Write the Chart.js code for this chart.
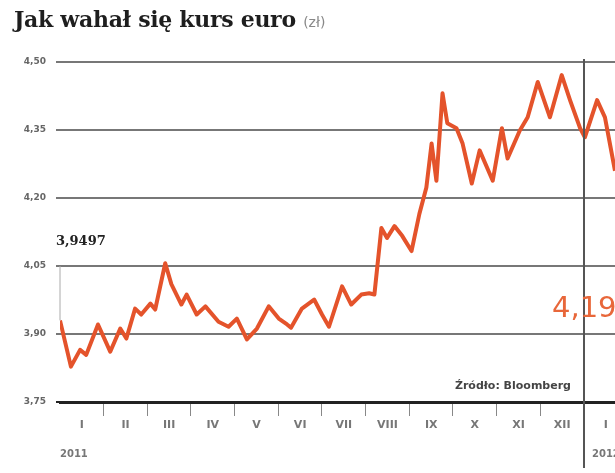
<!DOCTYPE html>
<html>
<head>
<meta charset="utf-8">
<script src="https://cdn.jsdelivr.net/npm/chart.js@4"></script>
<style>
  html, body { margin: 0; padding: 0; background: #fff; overflow: hidden; }
  #wrap { position: relative; width: 615px; height: 473px; }
  #title { position: absolute; left: 14px; top: 6px; font: bold 22px "DejaVu Serif", serif; color: #1e1e1e; white-space: nowrap; letter-spacing: -0.3px; }
  #title span { font: normal 14px "DejaVu Sans", sans-serif; color: #888; letter-spacing: 0; }
  #source { position: absolute; right: 44px; top: 379px; font: bold 11px "DejaVu Sans", sans-serif; color: #444; }
  canvas { position: absolute; left: 0; top: 0; }
</style>
</head>
<body>
<div id="wrap">
  <canvas id="chart" width="615" height="473"></canvas>
  <div id="title">Jak wahał się kurs euro <span>(zł)</span></div>
  <div id="source">Źródło: Bloomberg</div>
</div>
<script>
// months since 1 Jan 2011 / EUR-PLN rate
const months = [0, 0.25, 0.46, 0.6, 0.87, 1.15, 1.38, 1.52, 1.72, 1.86, 2.07, 2.18, 2.41, 2.55, 2.78, 2.9,
  3.13, 3.33, 3.63, 3.86, 4.05, 4.28, 4.51, 4.78, 5.01, 5.2, 5.29, 5.54, 5.82, 6.0, 6.16, 6.46, 6.67, 6.9, 7.08, 7.2,
  7.36, 7.49, 7.66, 7.84, 8.05, 8.23, 8.39, 8.51, 8.62, 8.76, 8.87, 9.08, 9.22, 9.43, 9.61, 9.91,
  10.12, 10.25, 10.53, 10.71, 10.94, 11.22, 11.49, 11.68, 11.91, 12.02, 12.3, 12.48, 12.71];
const rates = [3.93, 3.828, 3.865, 3.854, 3.921, 3.861, 3.912, 3.89, 3.956, 3.943, 3.967, 3.954, 4.056, 4.01, 3.965, 3.987,
  3.943, 3.961, 3.927, 3.916, 3.934, 3.888, 3.912, 3.961, 3.934, 3.921, 3.914, 3.956, 3.976, 3.943, 3.916, 4.005, 3.965, 3.987, 3.99, 3.987,
  4.134, 4.112, 4.138, 4.116, 4.083, 4.165, 4.223, 4.32, 4.238, 4.431, 4.365, 4.354, 4.32, 4.232, 4.305, 4.238,
  4.354, 4.287, 4.349, 4.378, 4.456, 4.378, 4.471, 4.416, 4.354, 4.334, 4.416, 4.378, 4.26];
const monthLabels = ['I', 'II', 'III', 'IV', 'V', 'VI', 'VII', 'VIII', 'IX', 'X', 'XI', 'XII', 'I'];
const yearLabels = ['2011', '2012'];
const yTicks = [3.75, 3.90, 4.05, 4.20, 4.35, 4.50];
const startLabel = '3,9497';
const lastLabel = '4,19';

// extra drawing: month names, years, 2012 divider, callouts
const extras = {
  id: 'extras',
  afterDraw(chart) {
    const { ctx, chartArea } = chart;
    const x = chart.scales.x, y = chart.scales.y;
    ctx.save();

    // year divider
    const xd = x.getPixelForValue(12);
    ctx.strokeStyle = '#555';
    ctx.lineWidth = 2;
    ctx.beginPath();
    ctx.moveTo(xd, chartArea.top - 3);
    ctx.lineTo(xd, 468);
    ctx.stroke();

    // leader for the start value
    const x0 = x.getPixelForValue(0);
    ctx.strokeStyle = '#aaa';
    ctx.lineWidth = 1;
    ctx.beginPath();
    ctx.moveTo(x0, y.getPixelForValue(4.05));
    ctx.lineTo(x0, y.getPixelForValue(rates[0]));
    ctx.stroke();

    // month labels
    ctx.fillStyle = '#777';
    ctx.font = 'bold 11px "DejaVu Sans", sans-serif';
    ctx.textAlign = 'center';
    ctx.textBaseline = 'middle';
    monthLabels.forEach((m, i) => {
      ctx.fillText(m, x.getPixelForValue(i + 0.5), 425);
    });

    // years
    ctx.font = 'bold 10px "DejaVu Sans", sans-serif';
    ctx.textAlign = 'left';
    ctx.fillText(yearLabels[0], x0, 454);
    ctx.fillText(yearLabels[1], xd + 8, 454);

    // start value callout
    ctx.fillStyle = '#222';
    ctx.font = 'bold 13px "DejaVu Serif", serif';
    ctx.textBaseline = 'alphabetic';
    ctx.fillText(startLabel, x0 - 4, 245);

    // latest value
    ctx.fillStyle = '#e8673a';
    ctx.font = '29px "DejaVu Sans", sans-serif';
    ctx.textBaseline = 'middle';
    ctx.fillText(lastLabel, 552, 309);

    ctx.restore();
  }
};

new Chart(document.getElementById('chart'), {
  type: 'line',
  data: {
    datasets: [{
      data: months.map((m, i) => ({ x: m, y: rates[i] })),
      borderColor: '#e4532b',
      borderWidth: 4,
      pointRadius: 0,
      tension: 0,
      borderJoinStyle: 'round'
    }]
  },
  options: {
    responsive: false,
    animation: false,
    layout: { padding: { top: 62, right: 0, bottom: 0, left: 0 } },
    plugins: { legend: { display: false }, tooltip: { enabled: false } },
    scales: {
      x: {
        type: 'linear',
        min: 0,
        max: months[months.length - 1],
        afterBuildTicks: s => { s.ticks = monthLabels.slice(1).map((_, i) => ({ value: i + 1 })); },
        afterFit: s => { s.height = 71; },
        ticks: { display: true, callback: () => '' },
        grid: { drawOnChartArea: false, tickLength: 14, color: '#888', lineWidth: 1 },
        border: { color: '#222', width: 3 }
      },
      y: {
        min: 3.75,
        max: 4.50,
        afterBuildTicks: s => { s.ticks = yTicks.map(v => ({ value: v })); },
        afterFit: s => { s.width = 60; },
        ticks: {
          color: '#666',
          padding: 10,
          font: { size: 9, weight: 'bold', family: '"DejaVu Sans", sans-serif' },
          callback: v => v.toFixed(2).replace('.', ',')
        },
        grid: {
          tickLength: 4,
          lineWidth: 2,
          color: c => c.tick && c.tick.value === 3.75 ? '#222' : '#777'
        },
        border: { display: false }
      }
    }
  },
  plugins: [extras]
});
</script>
</body>
</html>
